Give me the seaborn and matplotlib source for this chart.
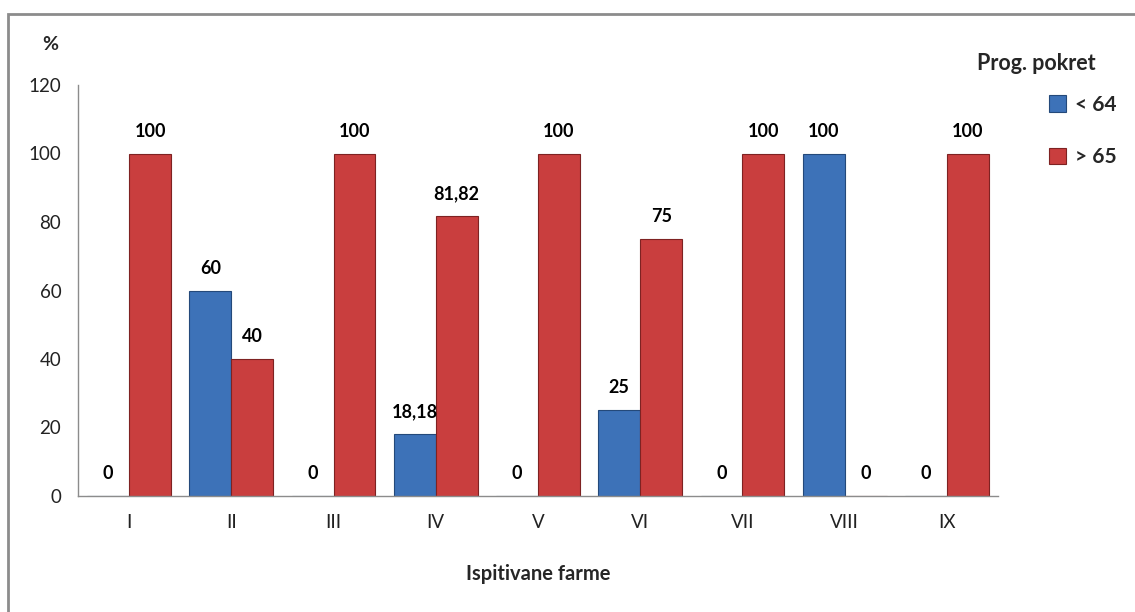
import matplotlib
matplotlib.use("Agg")
import matplotlib.pyplot as plt
import matplotlib.patches as mpatches
import seaborn as sns
import pandas as pd
import numpy as np

categories = ["I", "II", "III", "IV", "V", "VI", "VII", "VIII", "IX"]
series_names = ["< 64", "> 65"]
lt64 = [0, 60, 0, 18.18, 0, 25, 0, 100, 0]
gt65 = [100, 40, 100, 81.82, 100, 75, 100, 0, 100]
y_ticks = [0, 20, 40, 60, 80, 100, 120]
colors = ["#3D72B8", "#C93E3E"]
edge_colors = ["#24497A", "#7E2222"]

sns.set_theme(style="white")
plt.rcParams["font.family"] = ["Lato", "DejaVu Sans"]

df = pd.DataFrame({
    "farm": categories * 2,
    "series": [series_names[0]] * len(categories) + [series_names[1]] * len(categories),
    "value": lt64 + gt65,
})

W, H = 1135, 612
fig = plt.figure(figsize=(W / 100, H / 100), dpi=100)
ax = fig.add_axes([78 / W, 1 - 496 / H, (998 - 78) / W, (496 - 85) / H])

sns.barplot(data=df, x="farm", y="value", hue="series", order=categories,
            hue_order=series_names, palette=colors, width=0.82,
            saturation=1, ax=ax, legend=False, errorbar=None)

for cont, ec in zip(ax.containers, edge_colors):
    for p in cont.patches:
        p.set_edgecolor(ec)
        p.set_linewidth(0.8)

for cont in ax.containers:
    vals = [p.get_height() for p in cont.patches]
    labels = [f"{v:g}".replace(".", ",") for v in vals]
    ax.bar_label(cont, labels=labels, padding=10, fontsize=13,
                 fontweight="bold", color="black")

ax.set_ylim(0, 120)
ax.set_xlim(-0.5, len(categories) - 0.5)
ax.set_yticks(y_ticks)
ax.set_yticklabels([str(t) for t in y_ticks], fontsize=13.5)
ax.set_xticks(range(len(categories)))
ax.set_xticklabels(categories, fontsize=13.5)
ax.set_xticks(np.arange(-0.5, len(categories)), minor=True)
ax.tick_params(axis="x", which="major", length=0, pad=13, colors="#222222")
ax.tick_params(axis="x", which="minor", length=6, width=1, color="#8c8c8c", direction="out")
ax.tick_params(axis="y", which="major", length=6, width=1,
               direction="out", pad=6, colors="#222222")
ax.tick_params(axis="y", color="#8c8c8c")
for s in ["top", "right"]:
    ax.spines[s].set_visible(False)
for s in ["left", "bottom"]:
    ax.spines[s].set_color("#8c8c8c")
    ax.spines[s].set_linewidth(1)
ax.set_xlabel("Ispitivane farme", fontsize=14.5, fontweight="bold", labelpad=24)
ax.set_ylabel("")
ax.grid(False)

fig.text(50 / W, 1 - 45 / H, "%", fontsize=14, fontweight="bold", ha="center", va="center")
fig.text(977 / W, 1 - 63 / H, "Prog. pokret", fontsize=15.5, fontweight="bold",
         ha="left", va="center")

handles = [mpatches.Patch(facecolor=c, edgecolor=e, linewidth=0.8, label=n)
           for c, e, n in zip(colors, edge_colors, series_names)]
fig.legend(handles=handles, loc="upper left", bbox_to_anchor=(1030 / W, 1 - 76 / H),
           frameon=False, handlelength=0.85, handleheight=0.85, handletextpad=0.4,
           labelspacing=1.55, prop={"size": 15, "weight": "bold"})

top = 1 - 14 / H
border = mpatches.Rectangle((8 / W, -0.2), 1.2, top + 0.2,
                            transform=fig.transFigure, fill=False,
                            edgecolor="#8c8c8c", linewidth=2, clip_on=False)
fig.patches.append(border)

fig.savefig("out.png", dpi=100)
